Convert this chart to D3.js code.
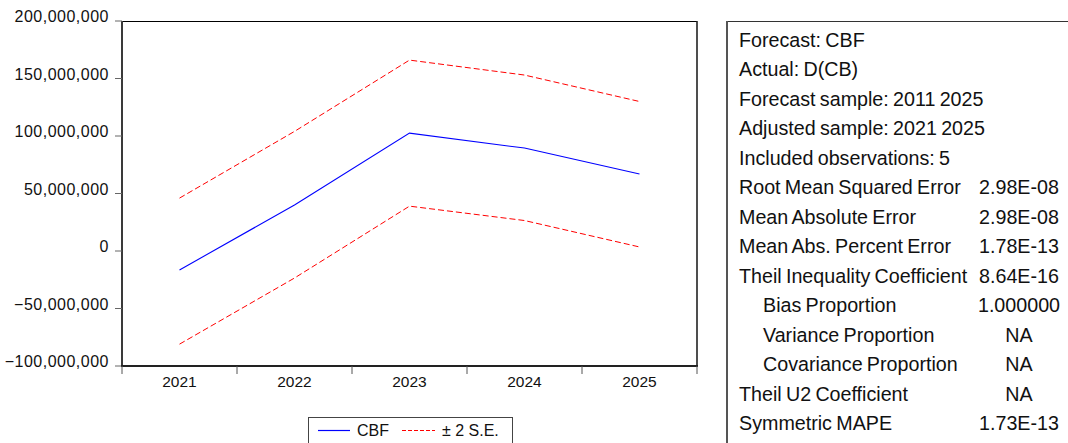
<!DOCTYPE html>
<html>
<head>
<meta charset="utf-8">
<script src="https://cdn.jsdelivr.net/npm/d3@7"></script>
<style>
  body { margin: 0; background: #fff; }
  svg { display: block; font-family: "Liberation Sans", Arial, sans-serif; }
</style>
</head>
<body>
<div id="chart"></div>
<script>
// forecast values
const years = ["2021", "2022", "2023", "2024", "2025"];
const cbf = [-16.5e6, 40e6, 102.5e6, 89.5e6, 67e6];
const upperSE = [46e6, 104e6, 166e6, 153e6, 130e6];
const lowerSE = [-81e6, -23.5e6, 39e6, 26.5e6, 3.5e6];
const yTicks = [-100e6, -50e6, 0, 50e6, 100e6, 150e6, 200e6];

// statistics table
const statLabels = [
    "Forecast: CBF", "Actual: D(CB)", "Forecast sample: 2011 2025",
    "Adjusted sample: 2021 2025", "Included observations: 5",
    "Root Mean Squared Error", "Mean Absolute Error", "Mean Abs. Percent Error",
    "Theil Inequality Coefficient", "Bias Proportion", "Variance Proportion",
    "Covariance Proportion", "Theil U2 Coefficient", "Symmetric MAPE"
];
const statValues = ["", "", "", "", "", "2.98E-08", "2.98E-08", "1.78E-13",
    "8.64E-16", "1.000000", "NA", "NA", "NA", "1.73E-13"];
const statIndent = [0, 0, 0, 0, 0, 0, 0, 0, 0, 1, 1, 1, 0, 0];

const W = 1068, H = 443;
const plot = { left: 122, right: 697, top: 21, bottom: 366 };

const svg = d3.select("#chart").append("svg")
    .attr("width", W)
    .attr("height", H);

const x = d3.scaleBand().domain(years).range([plot.left, plot.right]);
const y = d3.scaleLinear().domain([-100e6, 200e6]).range([plot.bottom, plot.top]);
const xc = d => x(d) + x.bandwidth() / 2;

// frame: thin top/right, heavier axes
svg.append("line")
    .attr("x1", plot.left).attr("x2", plot.right)
    .attr("y1", plot.top + 0.5).attr("y2", plot.top + 0.5)
    .attr("stroke", "#000").attr("stroke-width", 1);
svg.append("line")
    .attr("x1", plot.right).attr("x2", plot.right)
    .attr("y1", plot.top).attr("y2", plot.bottom)
    .attr("stroke", "#222").attr("stroke-width", 1.6);

// y axis
const yAxis = svg.append("g");
yAxis.append("line")
    .attr("x1", plot.left).attr("x2", plot.left)
    .attr("y1", plot.top).attr("y2", plot.bottom + 1)
    .attr("stroke", "#3a3a3a").attr("stroke-width", 2);
yAxis.selectAll("line.tick")
    .data(yTicks)
    .enter().append("line")
    .attr("class", "tick")
    .attr("x1", plot.left - 7).attr("x2", plot.left)
    .attr("y1", d => y(d)).attr("y2", d => y(d))
    .attr("stroke", "#666").attr("stroke-width", 1);
yAxis.selectAll("text")
    .data(yTicks)
    .enter().append("text")
    .attr("x", 109)
    .attr("y", d => y(d) + 1)
    .attr("text-anchor", "end")
    .attr("font-size", 16)
    .attr("letter-spacing", "0.5px")
    .attr("fill", "#111")
    .text(d => d3.format(",")(d));

// x axis
const xAxis = svg.append("g");
xAxis.append("line")
    .attr("x1", plot.left - 1).attr("x2", plot.right + 1)
    .attr("y1", plot.bottom).attr("y2", plot.bottom)
    .attr("stroke", "#222").attr("stroke-width", 2);
xAxis.selectAll("line.tick")
    .data(years.concat(["end"]))
    .enter().append("line")
    .attr("class", "tick")
    .attr("x1", (d, i) => plot.left + i * x.bandwidth())
    .attr("x2", (d, i) => plot.left + i * x.bandwidth())
    .attr("y1", plot.bottom).attr("y2", plot.bottom + 8)
    .attr("stroke", "#555").attr("stroke-width", 1);
xAxis.selectAll("text")
    .data(years)
    .enter().append("text")
    .attr("x", d => xc(d))
    .attr("y", 387)
    .attr("text-anchor", "middle")
    .attr("font-size", 15.5)
    .attr("fill", "#111")
    .text(d => d);

// series
const line = d3.line()
    .x((d, i) => xc(years[i]))
    .y(d => y(d));

svg.append("path").datum(upperSE)
    .attr("d", line).attr("fill", "none")
    .attr("stroke", "#ff0000").attr("stroke-width", 1)
    .attr("stroke-dasharray", "6,3");
svg.append("path").datum(lowerSE)
    .attr("d", line).attr("fill", "none")
    .attr("stroke", "#ff0000").attr("stroke-width", 1)
    .attr("stroke-dasharray", "6,3");
svg.append("path").datum(cbf)
    .attr("d", line).attr("fill", "none")
    .attr("stroke", "#0000ff").attr("stroke-width", 1.1);

// legend
const lg = svg.append("g");
lg.append("rect")
    .attr("x", 308.5).attr("y", 417.5)
    .attr("width", 204).attr("height", 40)
    .attr("fill", "#fff").attr("stroke", "#444").attr("stroke-width", 1);
lg.append("line")
    .attr("x1", 318).attr("x2", 350).attr("y1", 430.5).attr("y2", 430.5)
    .attr("stroke", "#0000ff").attr("stroke-width", 1.2);
lg.append("text")
    .attr("x", 357).attr("y", 436).attr("font-size", 16).attr("fill", "#111")
    .text("CBF");
lg.append("line")
    .attr("x1", 402).attr("x2", 435).attr("y1", 430.5).attr("y2", 430.5)
    .attr("stroke", "#ff0000").attr("stroke-width", 1)
    .attr("stroke-dasharray", "4,2");
lg.append("text")
    .attr("x", 442).attr("y", 436).attr("font-size", 16).attr("fill", "#111")
    .text("\u00b1 2 S.E.");

// statistics panel
const sp = svg.append("g");
sp.append("line")
    .attr("x1", 727).attr("x2", W).attr("y1", 21.5).attr("y2", 21.5)
    .attr("stroke", "#333").attr("stroke-width", 1);
sp.append("line")
    .attr("x1", 727).attr("x2", 727).attr("y1", 21).attr("y2", H)
    .attr("stroke", "#555").attr("stroke-width", 2);

const rowY = d3.scaleLinear().domain([0, 1]).range([46.7, 76.2]);

sp.selectAll("text.lab")
    .data(statLabels)
    .enter().append("text")
    .attr("class", "lab")
    .attr("x", (d, i) => statIndent[i] ? 763 : 739)
    .attr("y", (d, i) => rowY(i))
    .attr("font-size", 19.7)
    .attr("word-spacing", "-1.2px")
    .attr("fill", "#111")
    .text(d => d);

sp.selectAll("text.val")
    .data(statValues)
    .enter().append("text")
    .attr("class", "val")
    .attr("x", 1019)
    .attr("y", (d, i) => rowY(i))
    .attr("text-anchor", "middle")
    .attr("font-size", 19.7)
    .attr("fill", "#111")
    .text(d => d);
</script>
</body>
</html>
